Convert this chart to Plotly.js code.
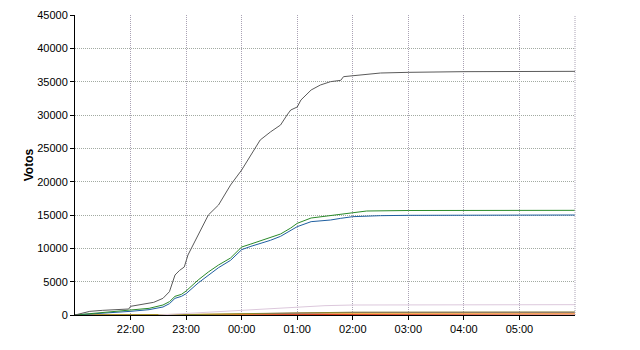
<!DOCTYPE html>
<html>
<head>
<meta charset="utf-8">
<script src="https://cdn.plot.ly/plotly-3.0.1.min.js"></script>
<style>html,body{margin:0;padding:0;background:#fff;}#chart{width:640px;height:350px;}</style>
</head>
<body>
<div id="chart"></div>
<script>
// Times (HH:MM) and vote counts
var grayTimes = ["21:00","21:10","21:16","21:30","21:52","21:58","22:00","22:15","22:25","22:35","22:42","22:48","22:53","22:58","23:02","23:13","23:20","23:24","23:35","23:48","00:00","00:10","00:20","00:31","00:42","00:49","00:53","01:00","01:04","01:15","01:25","01:36","01:47","01:50","02:00","02:30","03:00","04:00","06:00"];
var grayVotes = [0,300,550,700,850,900,1300,1600,1900,2500,3500,6000,6700,7200,9000,12000,14000,15000,16500,19500,21750,24000,26250,27450,28500,30000,30750,31200,32250,33750,34500,35000,35200,35750,35900,36300,36400,36500,36550];

var greenTimes = ["21:00","21:20","21:40","22:00","22:20","22:35","22:42","22:48","22:55","23:00","23:13","23:24","23:35","23:48","00:00","00:10","00:20","00:31","00:42","00:53","01:00","01:15","01:36","02:00","02:15","03:00","06:00"];
var greenVotes = [0,250,450,700,1000,1500,2000,2800,3100,3600,5250,6450,7500,8550,10200,10650,11100,11550,12150,13050,13750,14550,14900,15350,15600,15675,15700];

var blueTimes = ["21:00","21:20","21:40","22:00","22:20","22:35","22:42","22:48","22:55","23:00","23:13","23:24","23:35","23:48","00:00","00:10","00:20","00:31","00:42","00:53","01:00","01:15","01:36","01:47","02:00","02:30","03:00","06:00"];
var blueVotes = [0,150,350,550,800,1200,1700,2500,2800,3200,4800,6000,7100,8200,9800,10300,10700,11200,11800,12700,13250,14000,14250,14500,14750,14900,14950,15000];

var pinkTimes = ["22:30","23:00","23:30","00:00","00:30","01:00","01:30","02:00","06:00"];
var pinkVotes = [0,250,450,650,950,1200,1400,1500,1550];

var oliveTimes = ["21:00","23:00","00:00","01:00","02:00","06:00"];
var oliveVotes = [0,50,200,350,420,450];

var purpleTimes = ["00:13","01:00","02:00","06:00"];
var purpleVotes = [200,300,380,400];

var orangeTimes = ["21:00","23:00","00:00","01:00","02:00","06:00"];
var orangeVotes = [0,50,150,250,280,300];

var redTimes = ["21:00","00:00","01:00","06:00"];
var redVotes = [0,50,100,150];

var tickLabels = ["22:00","23:00","00:00","01:00","02:00","03:00","04:00","05:00"];

function toDate(t){
  var h = parseInt(t.split(":")[0],10);
  return (h >= 12 ? "2011-05-22 " : "2011-05-23 ") + t;
}
function mk(times, votes, color){
  return {x: times.map(toDate), y: votes, type: "scatter", mode: "lines",
          line: {color: color, width: 1}, hoverinfo: "skip", showlegend: false};
}
var data = [
  mk(redTimes, redVotes, "#e04020"),
  mk(orangeTimes, orangeVotes, "#f0a020"),
  mk(purpleTimes, purpleVotes, "#9060b0"),
  mk(oliveTimes, oliveVotes, "#8a8a30"),
  mk(pinkTimes, pinkVotes, "#dcc8dc"),
  mk(blueTimes, blueVotes, "#1f5fa0"),
  mk(greenTimes, greenVotes, "#2a8a2a"),
  mk(grayTimes, grayVotes, "#5a5a5a")
];
var layout = {
  width: 640, height: 350,
  margin: {l: 75, r: 65, t: 15, b: 35},
  paper_bgcolor: "#fff", plot_bgcolor: "#fff",
  font: {family: "Liberation Sans, Arial, sans-serif", size: 11, color: "#000"},
  xaxis: {
    type: "date",
    range: ["2011-05-22 21:00", "2011-05-23 06:00"],
    tickvals: tickLabels.map(toDate), ticktext: tickLabels,
    showgrid: true, gridcolor: "#aaa2b4", griddash: "1px,1px", gridwidth: 1,
    showline: true, linecolor: "#000", linewidth: 1,
    ticks: "outside", ticklen: 4, tickcolor: "#000",
    zeroline: false, fixedrange: true
  },
  yaxis: {
    range: [0, 45000], dtick: 5000, tick0: 0, tickformat: "d",
    showgrid: true, gridcolor: "#a2aaa2", griddash: "1px,1px", gridwidth: 1,
    showline: true, linecolor: "#000", linewidth: 1,
    ticks: "outside", ticklen: 4, tickcolor: "#000",
    zeroline: false, fixedrange: true,
    title: {text: "<b>Votos</b>", font: {size: 12, color: "#000"}, standoff: 1}
  },
  shapes: [
    {type: "line", xref: "paper", yref: "paper", x0: 1, x1: 1, y0: 0, y1: 1,
     line: {color: "#aaa2b4", width: 1, dash: "1px,1px"}}
  ]
};
Plotly.newPlot("chart", data, layout, {displayModeBar: false, staticPlot: true});
</script>
</body>
</html>
